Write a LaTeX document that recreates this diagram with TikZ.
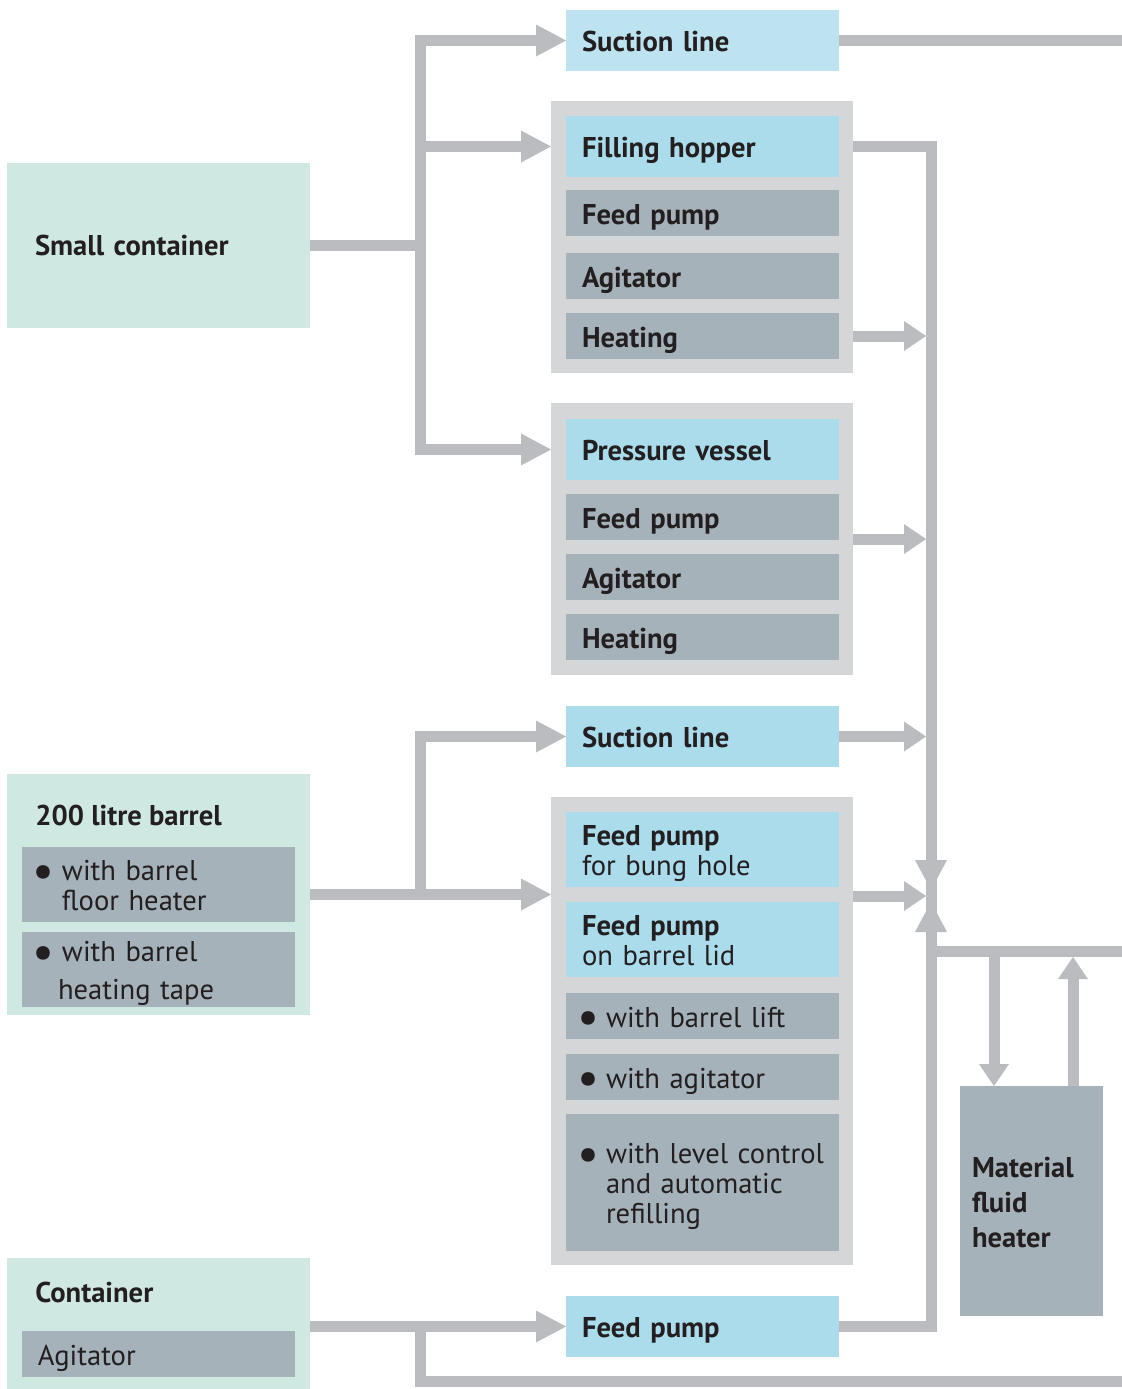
\documentclass[tikz,border=0pt]{standalone}
\usepackage{fontspec}
\usepackage{graphicx}
\setmainfont{PT Sans}
\usetikzlibrary{arrows.meta}
\definecolor{cgreen}{HTML}{D0E8E2}
\definecolor{cblue}{HTML}{AADCEC}
\definecolor{cblueL}{HTML}{BDE3F1}
\definecolor{cgray}{HTML}{A6B2BA}
\definecolor{cframe}{HTML}{D5D6D8}
\definecolor{cpipe}{HTML}{BBBCC0}
\definecolor{cink}{HTML}{231F20}
\newcommand\diafont{\fontsize{14.3pt}{15pt}\selectfont}
\newcommand\bul{\makebox[12pt][l]{\hspace*{-2.5pt}\raisebox{-0.23em}{\scalebox{1.7}{\textbullet}}}}
\newcommand\bulind{\hspace*{12pt}}
\newcommand\topstrut{\rule{0pt}{14.5pt}}
\newcommand\botstrut{\rule[-3.5pt]{0pt}{3.5pt}}
\tikzset{
  intip/.tip={Triangle[length=15pt,width=16pt,line width=0pt]},
  outtip/.tip={Triangle[length=11pt,width=15pt,line width=0pt]}
}
\begin{document}
\begin{tikzpicture}[x=0.5pt,y=-0.5pt,
    every node/.style={text=cink,font=\diafont},
    head/.style={font=\diafont\bfseries},
    title/.style={anchor=west,inner sep=0pt,font=\diafont\bfseries},
    struts/.style={execute at begin node=\topstrut,execute at end node=\botstrut},
    stage/.style={anchor=north west,fill=#1,inner xsep=8pt,inner ysep=0pt,
      outer sep=0pt,text width=120.5pt,align=left,struts},
    h46/.style={minimum height=23pt},
    h61/.style={minimum height=30.5pt},
    h75/.style={minimum height=37.5pt},
    unitbox/.style={anchor=north west,fill=cframe,inner sep=0pt,outer sep=0pt,
      minimum width=151pt,minimum height=#1},
    tank/.style={anchor=north west,fill=cgreen,inner sep=0pt,outer sep=0pt,
      minimum width=151.5pt,minimum height=#1},
    pipe/.style={draw=cpipe,line width=5.5pt}]
  \path[use as bounding box,fill=white] (0,0) rectangle (1122,1389);

  % sources
  \node[tank=82.5pt,inner xsep=14pt,text width=123.5pt,align=left,head] (small) at (7,163) {Small container};
  \node[tank=120.5pt] (barrel) at (7,774) {};
  \node[title] (barreltitle) at (35,815) {200 litre barrel};
  \node[stage=cgray,h75] (floor) at (22,847) {\bul with barrel\\\bulind floor heater};
  \node[stage=cgray,h75] (tape) at (22,932) {\bul with barrel\\[4pt]\hspace*{10pt}heating tape};
  \node[tank=65.5pt] (cont) at (7,1258) {};
  \node[title] (conttitle) at (35,1292) {Container};
  \node[stage=cgray,h46] (agit4) at (22,1331) {Agitator};

  % units
  \node[unitbox=136pt] (box1) at (551,101) {};
  \node[unitbox=136pt] (box2) at (551,403) {};
  \node[unitbox=234pt] (box3) at (551,797) {};
  \node[stage=cblueL,h61,head] (suct1) at (566,10) {Suction line};
  \node[stage=cblue,h61,head] (hopper) at (566,116) {Filling hopper};
  \node[stage=cgray,h46,head] (feed1) at (566,190) {Feed pump};
  \node[stage=cgray,h46,head] (agit1) at (566,253) {Agitator};
  \node[stage=cgray,h46,head] (heat1) at (566,313) {Heating};
  \node[stage=cblue,h61,head] (vessel) at (566,419) {Pressure vessel};
  \node[stage=cgray,h46,head] (feed2) at (566,494) {Feed pump};
  \node[stage=cgray,h46,head] (agit2) at (566,554) {Agitator};
  \node[stage=cgray,h46,head] (heat2) at (566,614) {Heating};
  \node[stage=cblue,h61,head] (suct2) at (566,706) {Suction line};
  \node[stage=cblue,h75] (bung) at (566,812) {\textbf{Feed pump}\\for bung hole};
  \node[stage=cblue,h75] (lid) at (566,902) {\textbf{Feed pump}\\on barrel lid};
  \node[stage=cgray,h46] (lift) at (566,993) {\bul with barrel lift};
  \node[stage=cgray,h46] (agit3) at (566,1054) {\bul with agitator};
  \node[stage=cgray,minimum height=68.5pt] (level) at (566,1114)
    {\bul\mbox{with level control}\\\bulind and automatic\\\bulind refilling};
  \node[stage=cblue,h61,head] (fp) at (566,1296) {Feed pump};

  \node[anchor=north west,fill=cgray,inner xsep=6pt,inner ysep=0pt,outer sep=0pt,
    text width=59.5pt,minimum height=115pt,align=left,struts,
    font=\fontsize{14.3pt}{17.5pt}\selectfont\bfseries] (heater) at (960,1086) {Material\\fluid\\heater};

  % pipe points
  \coordinate (trunk) at (420,0);
  \coordinate (rail) at (931,0);
  \coordinate (railin) at (926,0);
  \coordinate (joint) at (931,896);
  \coordinate (jtop) at (931,858);
  \coordinate (jdown) at (931,890);
  \coordinate (jup) at (931,902);
  \coordinate (jbot) at (931,934);
  \coordinate (edge) at (1122,0);
  \coordinate (loopout) at (1122,951);
  \coordinate (botout) at (1122,1381);
  \coordinate (hin) at (994,951);
  \coordinate (hout) at (1073,957);

  % feeding
  \draw[pipe,-intip] (small.east) -| (trunk |- suct1.west) -- (suct1.west);
  \draw[pipe,-intip] (trunk |- hopper.west) -- (box1.west |- hopper.west);
  \draw[pipe,-intip] (small.east) -| (trunk |- vessel.west) -- (box2.west |- vessel.west);
  \draw[pipe,-intip] (barrel.east) -- (box3.west |- barrel.east);
  \draw[pipe,-intip] (trunk |- barrel.east) |- (suct2.west);
  \draw[pipe,-intip] (cont.east |- fp.west) -- (fp.west);
  \draw[pipe] (trunk |- fp.west) |- (botout);
  \draw[pipe] (suct1.east) -- (edge |- suct1.east);

  % collecting
  \draw[pipe] (box1.east |- hopper.east) -| (rail |- fp.east) -- (fp.east);
  \draw[pipe,-intip] (jtop) -- (jdown);
  \draw[pipe,-intip] (jbot) -- (jup);
  \draw[pipe,-outtip] (box1.east |- heat1.east) -- (railin |- heat1.east);
  \draw[pipe,-outtip] (box2.east) -- (railin |- box2.east);
  \draw[pipe,-outtip] (suct2.east) -- (railin |- suct2.east);
  \draw[pipe,-outtip] (box3.east |- joint) -- (railin |- joint);

  % heater loop
  \draw[pipe] (rail |- loopout) -- (loopout);
  \draw[pipe,-outtip] (hin) -- (hin |- heater.north);
  \draw[pipe,-outtip] (heater.north -| hout) -- (hout);
\end{tikzpicture}
\end{document}
